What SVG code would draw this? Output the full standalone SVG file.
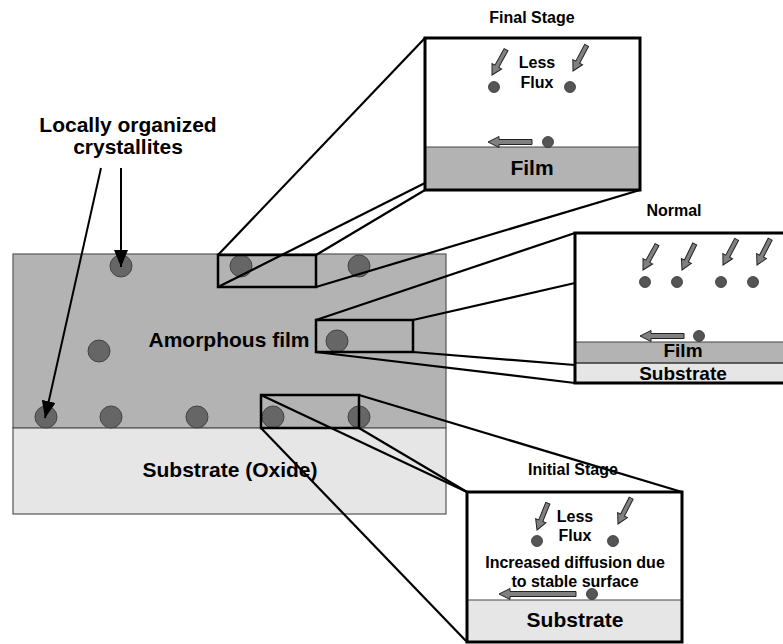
<svg xmlns="http://www.w3.org/2000/svg" xmlns:xlink="http://www.w3.org/1999/xlink" width="783" height="644" viewBox="0 0 783 644">
<style>
text{font-family:"Liberation Sans",Arial,sans-serif;font-weight:bold;fill:#000}
.big{font-size:21px}
.mid{font-size:19px}
.sm{font-size:16px}
.film{fill:#b3b3b3}
.sub{fill:#e6e6e6}
.main{stroke:#555;stroke-width:1.2}
.xl{fill:#666;stroke:#444;stroke-width:1}
.dot{fill:#555;stroke:#333;stroke-width:0.8}
.box{fill:none;stroke:#000;stroke-width:3}
.sbox{fill:none;stroke:#000;stroke-width:2.5}
.ln{stroke:#000;stroke-width:2.2;fill:none}
.ga{fill:#808080;stroke:#222;stroke-width:1}
.ba{stroke:#000;stroke-width:2;fill:none;marker-end:url(#bh)}
</style>
<defs>
<marker id="bh" markerUnits="userSpaceOnUse" markerWidth="18" markerHeight="14" refX="17" refY="7" orient="auto">
<path d="M0,0 L17,7 L0,14 Z" fill="#000"/>
</marker>
<polygon id="sa" points="0,0 10,-5.5 10,-2.2 29,-2.2 29,2.2 10,2.2 10,5.5"/>
</defs>

<g id="main-sample">
<rect x="13" y="254" width="433" height="174" class="film main"/>
<rect x="13" y="428" width="433" height="86" class="sub main"/>
<text x="229" y="347" class="big" text-anchor="middle">Amorphous film</text>
<text x="230" y="477" class="big" text-anchor="middle">Substrate (Oxide)</text>
</g>

<g id="crystallites">
<circle cx="121" cy="266" r="11" class="xl"/>
<circle cx="241" cy="266" r="11" class="xl"/>
<circle cx="359" cy="266" r="11" class="xl"/>
<circle cx="99" cy="351" r="11" class="xl"/>
<circle cx="337" cy="341" r="11" class="xl"/>
<circle cx="46" cy="417" r="11" class="xl"/>
<circle cx="111" cy="417" r="11" class="xl"/>
<circle cx="197" cy="417" r="11" class="xl"/>
<circle cx="273" cy="417" r="11" class="xl"/>
<circle cx="359" cy="417" r="11" class="xl"/>
</g>

<g id="label-crystallites">
<text x="128" y="132" class="big" text-anchor="middle">Locally organized</text>
<text x="128" y="154" class="big" text-anchor="middle">crystallites</text>
</g>

<g id="connectors">
<line x1="121" y1="168" x2="121" y2="267" class="ba"/>
<line x1="101" y1="168" x2="45" y2="418" class="ba"/>
<line x1="218" y1="255" x2="425" y2="38" class="ln"/>
<line x1="218" y1="287" x2="425" y2="183" class="ln"/>
<line x1="316" y1="255" x2="425" y2="190" class="ln"/>
<line x1="316" y1="287" x2="640" y2="190" class="ln"/>
<line x1="316" y1="320" x2="575" y2="233" class="ln"/>
<line x1="413" y1="320" x2="575" y2="283" class="ln"/>
<line x1="413" y1="352" x2="575" y2="365" class="ln"/>
<line x1="316" y1="352" x2="575" y2="383" class="ln"/>
<line x1="261" y1="395" x2="467" y2="492" class="ln"/>
<line x1="261" y1="428" x2="467" y2="642" class="ln"/>
<line x1="359" y1="395" x2="682" y2="492" class="ln"/>
<line x1="359" y1="428" x2="467" y2="492" class="ln"/>
</g>

<g id="window-top">
<rect x="218" y="255" width="98" height="32" class="sbox"/>
</g>
<g id="window-middle">
<rect x="316" y="320" width="97" height="32" class="sbox"/>
</g>
<g id="window-bottom">
<rect x="261" y="395" width="98" height="33" class="sbox"/>
</g>

<g id="final-stage">
<text x="532" y="23" class="sm" text-anchor="middle">Final Stage</text>
<rect x="425" y="38" width="215" height="152" fill="#fff"/>
<rect x="425" y="147" width="215" height="43" class="film"/>
<line x1="425" y1="147" x2="640" y2="147" stroke="#444" stroke-width="1"/>
<rect x="425" y="38" width="215" height="152" class="box"/>
<text x="532" y="175" class="big" text-anchor="middle">Film</text>
<text x="537" y="68" class="sm" text-anchor="middle">Less</text>
<text x="537" y="88" class="sm" text-anchor="middle">Flux</text>
<use xlink:href="#sa" class="ga" transform="translate(492,75) rotate(-61)"/>
<use xlink:href="#sa" class="ga" transform="translate(573,71) rotate(-62)"/>
<circle cx="494" cy="87" r="5.5" class="dot"/>
<circle cx="570" cy="87" r="5.5" class="dot"/>
<polygon points="488,142 499,136.5 499,139.5 532,139.5 532,144.5 499,144.5 499,147.5" class="ga"/>
<circle cx="548" cy="142" r="5.5" class="dot"/>
</g>

<g id="normal">
<text x="674" y="216" class="sm" text-anchor="middle">Normal</text>
<rect x="575" y="233" width="220" height="150" fill="#fff"/>
<rect x="575" y="342" width="220" height="21" class="film"/>
<rect x="575" y="363" width="220" height="20" class="sub"/>
<line x1="575" y1="342" x2="795" y2="342" stroke="#444" stroke-width="1"/>
<line x1="575" y1="363" x2="795" y2="363" stroke="#333" stroke-width="1.5"/>
<rect x="575" y="233" width="220" height="150" class="box"/>
<text x="683" y="357" class="mid" text-anchor="middle">Film</text>
<text x="683" y="380" class="mid" text-anchor="middle">Substrate</text>
<use xlink:href="#sa" class="ga" transform="translate(643,270) rotate(-61)"/>
<use xlink:href="#sa" class="ga" transform="translate(682,270) rotate(-64)"/>
<use xlink:href="#sa" class="ga" transform="translate(723,265) rotate(-62)"/>
<use xlink:href="#sa" class="ga" transform="translate(757,265) rotate(-63)"/>
<circle cx="645" cy="282" r="5.5" class="dot"/>
<circle cx="677" cy="282" r="5.5" class="dot"/>
<circle cx="721" cy="282" r="5.5" class="dot"/>
<circle cx="753" cy="282" r="5.5" class="dot"/>
<polygon points="640,336 651,330.5 651,333.5 684,333.5 684,338.5 651,338.5 651,341.5" class="ga"/>
<circle cx="699" cy="336" r="5.5" class="dot"/>
</g>

<g id="initial-stage">
<text x="573" y="475" class="sm" text-anchor="middle">Initial Stage</text>
<rect x="467" y="492" width="215" height="150" fill="#fff"/>
<rect x="467" y="600" width="215" height="42" class="sub"/>
<line x1="467" y1="600" x2="682" y2="600" stroke="#444" stroke-width="1"/>
<rect x="467" y="492" width="215" height="150" class="box"/>
<text x="575" y="627" class="big" text-anchor="middle">Substrate</text>
<text x="575" y="522" class="sm" text-anchor="middle">Less</text>
<text x="575" y="541" class="sm" text-anchor="middle">Flux</text>
<text x="575" y="568" class="sm" text-anchor="middle">Increased diffusion due</text>
<text x="575" y="587" class="sm" text-anchor="middle">to stable surface</text>
<use xlink:href="#sa" class="ga" transform="translate(537,530) rotate(-68)"/>
<use xlink:href="#sa" class="ga" transform="translate(618,524) rotate(-63)"/>
<circle cx="537" cy="541" r="5.5" class="dot"/>
<circle cx="613" cy="541" r="5.5" class="dot"/>
<polygon points="499,594 510,588.5 510,591.5 576,591.5 576,596.5 510,596.5 510,599.5" class="ga"/>
<circle cx="592" cy="594" r="5.5" class="dot"/>
</g>
</svg>
